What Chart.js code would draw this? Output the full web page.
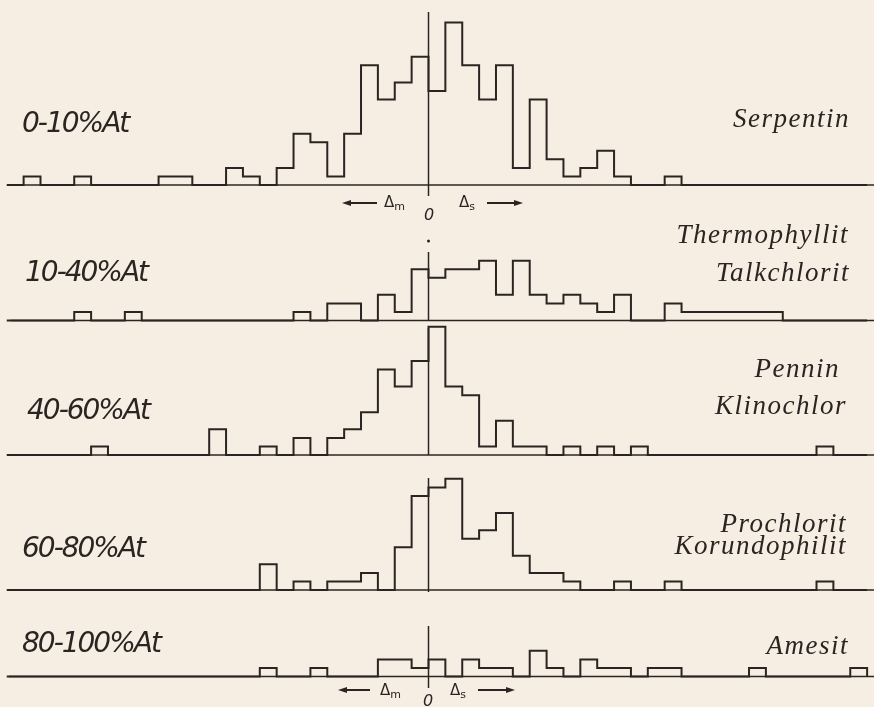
<!DOCTYPE html>
<html lang="de">
<head>
<meta charset="UTF-8" />
<title>Chlorite – Verteilung von Δm / Δs</title>
<style>
  html, body { margin: 0; padding: 0; background: #f6eee2; }
  #wrap { position: relative; width: 874px; height: 707px; overflow: hidden; background: #f6eee2; }
  #chart { position: absolute; left: 0; top: 0; }
  .lbl { position: absolute; white-space: nowrap; color: #2b2422; line-height: 1; }
  .left { font-family: "DejaVu Sans", sans-serif; font-style: italic; font-size: 28px; letter-spacing: -2px; }
  .right { font-family: "Liberation Serif", serif; font-style: italic; font-size: 27px; letter-spacing: 1.5px; text-align: right; }
  .note { font-family: "DejaVu Sans", sans-serif; font-size: 15px; }
  .note sub { font-size: 11px; vertical-align: -3px; }
  .zero { font-family: "DejaVu Sans", sans-serif; font-style: italic; font-size: 16px; }
</style>
<script src="https://cdn.jsdelivr.net/npm/chart.js@4.4.0/dist/chart.umd.min.js"></script>
</head>
<body>
<div id="wrap">
  <canvas id="chart" width="874" height="707"></canvas>

  <div class="lbl left" style="left:22px; top:109px">0-10%At</div>
  <div class="lbl left" style="left:25px; top:258px">10-40%At</div>
  <div class="lbl left" style="left:27px; top:396px">40-60%At</div>
  <div class="lbl left" style="left:22px; top:534px">60-80%At</div>
  <div class="lbl left" style="left:22px; top:629px">80-100%At</div>

  <div class="lbl right" style="right:24px; top:105px">Serpentin</div>
  <div class="lbl right" style="right:25px; top:221px">Thermophyllit</div>
  <div class="lbl right" style="right:24px; top:259px">Talkchlorit</div>
  <div class="lbl right" style="right:34px; top:355px">Pennin</div>
  <div class="lbl right" style="right:27px; top:392px">Klinochlor</div>
  <div class="lbl right" style="right:27px; top:510px">Prochlorit</div>
  <div class="lbl right" style="right:27px; top:532px">Korundophilit</div>
  <div class="lbl right" style="right:25px; top:632px">Amesit</div>

  <div class="lbl note" style="left:384px; top:195px">Δ<sub>m</sub></div>
  <div class="lbl zero" style="left:424px; top:207px">0</div>
  <div class="lbl note" style="left:459px; top:195px">Δ<sub>s</sub></div>
  <div class="lbl note" style="left:380px; top:683px">Δ<sub>m</sub></div>
  <div class="lbl zero" style="left:423px; top:693px">0</div>
  <div class="lbl note" style="left:450px; top:683px">Δ<sub>s</sub></div>
</div>

<script>
  // class width = 1 unit; first bin starts at -24 (0 = centre line)
  const binStart = -24;

  // counts per bin, bins -24 .. 25 (rows of ten)
  const serpentin = [
    1, 0, 0, 1, 0, 0, 0, 0, 1, 1,
    0, 0, 2, 1, 0, 2, 6, 5, 1, 6,
    14, 10, 12, 15, 11, 19, 14, 10, 14, 2,
    10, 3, 1, 2, 4, 1, 0, 0, 1, 0,
    0, 0, 0, 0, 0, 0, 0, 0, 0, 0
  ];
  const thermophyllit = [
    0, 0, 0, 1, 0, 0, 1, 0, 0, 0,
    0, 0, 0, 0, 0, 0, 1, 0, 2, 2,
    0, 3, 1, 6, 5, 6, 6, 7, 3, 7,
    3, 2, 3, 2, 1, 3, 0, 0, 2, 1,
    1, 1, 1, 1, 1, 0, 0, 0, 0, 0
  ];
  const pennin = [
    0, 0, 0, 0, 1, 0, 0, 0, 0, 0,
    0, 3, 0, 0, 1, 0, 2, 0, 2, 3,
    5, 10, 8, 11, 15, 8, 7, 1, 4, 1,
    1, 0, 1, 0, 1, 0, 1, 0, 0, 0,
    0, 0, 0, 0, 0, 0, 0, 1, 0, 0
  ];
  const prochlorit = [
    0, 0, 0, 0, 0, 0, 0, 0, 0, 0,
    0, 0, 0, 0, 3, 0, 1, 0, 1, 1,
    2, 0, 5, 11, 12, 13, 6, 7, 9, 4,
    2, 2, 1, 0, 0, 1, 0, 0, 1, 0,
    0, 0, 0, 0, 0, 0, 0, 1, 0, 0
  ];
  const amesit = [
    0, 0, 0, 0, 0, 0, 0, 0, 0, 0,
    0, 0, 0, 0, 1, 0, 0, 1, 0, 0,
    0, 2, 2, 1, 2, 0, 2, 1, 1, 0,
    3, 1, 0, 2, 1, 1, 0, 1, 1, 0,
    0, 0, 0, 1, 0, 0, 0, 0, 0, 1
  ];

  const panels = [serpentin, thermophyllit, pennin, prochlorit, amesit];

  // layout of the sheet
  const W = 874, H = 707;
  const centrePx = 428.5, binPx = 16.87, unitPx = 8.55;
  const baselinePx = [185, 320.5, 455, 590, 676.5];
  const baselineStart = [9, 11, 8, 10, 9];
  const centreLine = [[12, 196], [252, 321], [328, 455], [478, 592], [626, 688]];
  const ink = '#2b2422';

  function outline(counts) {
    const pts = [{ x: binStart - 1, y: 0 }];
    counts.forEach((c, i) => pts.push({ x: binStart + i, y: c }));
    pts.push({ x: binStart + counts.length, y: 0 });
    return pts;
  }

  const scales = {
    x: { type: 'linear', display: false, min: -centrePx / binPx, max: (W - centrePx) / binPx }
  };
  baselinePx.forEach((b, k) => {
    scales['y' + k] = { type: 'linear', display: false, min: -(H - b) / unitPx, max: b / unitPx };
  });

  const datasets = panels.map((counts, k) => ({
    data: outline(counts),
    yAxisID: 'y' + k,
    stepped: 'before',
    borderColor: ink,
    borderWidth: 2,
    borderJoinStyle: 'miter',
    pointRadius: 0,
    fill: false,
    clip: false
  }));

  function arrow(ctx, x1, x2, y) {
    const dir = Math.sign(x2 - x1);
    ctx.beginPath();
    ctx.moveTo(x1, y);
    ctx.lineTo(x2 - dir * 6, y);
    ctx.stroke();
    ctx.beginPath();
    ctx.moveTo(x2, y);
    ctx.lineTo(x2 - dir * 9, y - 3);
    ctx.lineTo(x2 - dir * 9, y + 3);
    ctx.closePath();
    ctx.fill();
  }

  const sheet = {
    id: 'sheet',
    beforeDatasetsDraw(chart) {
      const ctx = chart.ctx;
      const xs = chart.scales.x;
      ctx.save();
      ctx.strokeStyle = ink;
      ctx.lineWidth = 1.6;
      baselinePx.forEach((b, k) => {
        const y = chart.scales['y' + k].getPixelForValue(0);
        ctx.beginPath();
        ctx.moveTo(baselineStart[k], y);
        ctx.lineTo(W, y);
        ctx.stroke();
      });
      const x0 = xs.getPixelForValue(0);
      ctx.lineWidth = 1.5;
      centreLine.forEach(([t, b]) => {
        ctx.beginPath();
        ctx.moveTo(x0, t);
        ctx.lineTo(x0, b);
        ctx.stroke();
      });
      ctx.restore();
    },
    afterDraw(chart) {
      const ctx = chart.ctx;
      ctx.save();
      ctx.strokeStyle = ink;
      ctx.fillStyle = ink;
      ctx.lineWidth = 2;
      arrow(ctx, 377, 342, 203);
      arrow(ctx, 487, 523, 203);
      arrow(ctx, 370, 338, 690);
      arrow(ctx, 478, 515, 690);
      ctx.beginPath();
      ctx.arc(chart.scales.x.getPixelForValue(0), 241, 1.5, 0, Math.PI * 2);
      ctx.fill();
      ctx.restore();
    }
  };

  new Chart(document.getElementById('chart'), {
    type: 'line',
    data: { datasets: datasets },
    options: {
      responsive: false,
      devicePixelRatio: 1,
      animation: false,
      events: [],
      layout: { padding: 0 },
      scales: scales,
      plugins: { legend: { display: false }, tooltip: { enabled: false } }
    },
    plugins: [sheet]
  });
</script>
</body>
</html>
